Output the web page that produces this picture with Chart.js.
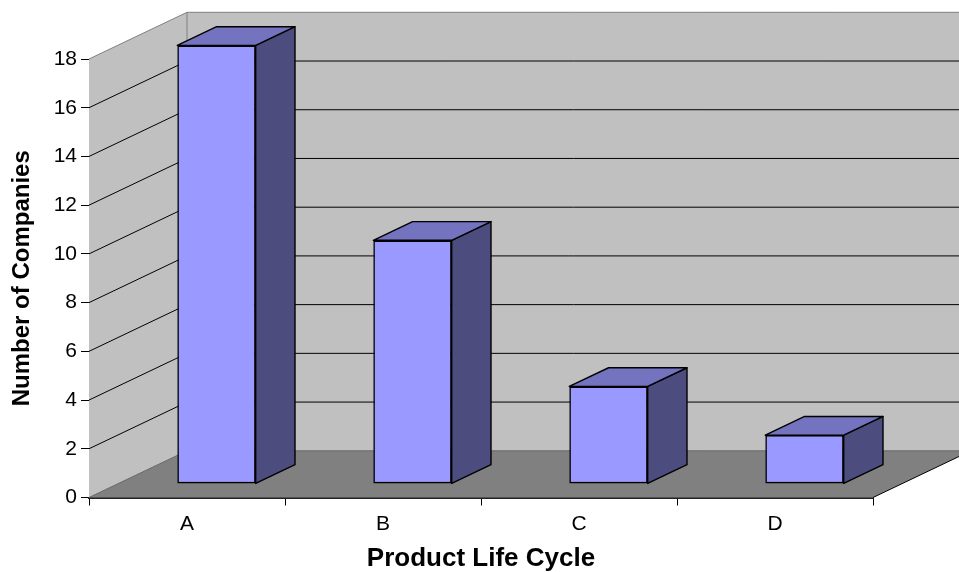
<!DOCTYPE html>
<html><head><meta charset="utf-8">
<style>html,body{margin:0;padding:0;background:#fff}canvas{display:block}</style>
<script src="https://cdn.jsdelivr.net/npm/chart.js@4"></script>
</head><body><canvas id="c" width="959" height="572"></canvas>
<script>
const categories = ["A","B","C","D"];
const companies = [18,10,4,2];
const yTitle = "Number of Companies";
const xTitle = "Product Life Cycle";
const FRONT="#9999FF", TOP="#7373BF", SIDE="#4C4C7F", WALL="#C0C0C0", FLOOR="#808080";
const DEPTH={x:98,y:46.7}, BAR_SHIFT={x:29.5,y:13.6}, BAR_DEPTH={x:39.3,y:18.7};
function poly(ctx,pts,fill,stroke,lw){
  ctx.beginPath();pts.forEach((p,i)=>i?ctx.lineTo(p[0],p[1]):ctx.moveTo(p[0],p[1]));ctx.closePath();
  if(fill){ctx.fillStyle=fill;ctx.fill();}
  if(stroke){ctx.strokeStyle=stroke;ctx.lineWidth=lw||1;ctx.stroke();}
}
function line(ctx,a,b,c,w){ctx.beginPath();ctx.moveTo(a[0],a[1]);ctx.lineTo(b[0],b[1]);ctx.strokeStyle=c;ctx.lineWidth=w||1;ctx.stroke();}
const box3d={
  id:"box3d",
  beforeDatasetsDraw(chart){
    const {ctx,chartArea:a,scales:{y}}=chart, dx=DEPTH.x, dy=DEPTH.y;
    const L=a.left,R=a.right,T=a.top,B=a.bottom;
    ctx.save();
    poly(ctx,[[L,B],[L+dx,B-dy],[L+dx,T-dy],[L,T]],WALL);
    poly(ctx,[[L+dx,B-dy],[R+dx,B-dy],[R+dx,T-dy],[L+dx,T-dy]],WALL);
    y.ticks.forEach(t=>{
      const py=y.getPixelForValue(t.value);
      if(t.value===0||t.value===y.max) return;
      line(ctx,[L,py],[L+dx,py-dy],"#000");
      line(ctx,[L+dx,py-dy],[R+dx,py-dy],"#000");
    });
    poly(ctx,[[L,B],[R,B],[R+dx,B-dy],[L+dx,B-dy]],FLOOR);
    line(ctx,[L,T],[L+dx,T-dy],FLOOR);
    line(ctx,[L+dx,T-dy],[R+dx,T-dy],FLOOR);
    line(ctx,[L+dx,T-dy],[L+dx,B-dy],FLOOR);
    line(ctx,[L+dx,B-dy],[R+dx,B-dy],"#666");
    line(ctx,[L,B],[L+dx,B-dy],"#666");
    line(ctx,[R,B],[R+dx,B-dy],"#000");
    // sides and tops of the bars, from the library's bar elements
    chart.getDatasetMeta(0).data.forEach(el=>{
      const p=el.getProps(["x","y","base","width"],true);
      const l=p.x-p.width/2+BAR_SHIFT.x, r=p.x+p.width/2+BAR_SHIFT.x;
      const t=p.y-BAR_SHIFT.y, b=p.base-BAR_SHIFT.y, bx=BAR_DEPTH.x, by=BAR_DEPTH.y;
      ctx.lineJoin="round";
      poly(ctx,[[r,t],[r+bx,t-by],[r+bx,b-by],[r,b]],SIDE,"#000",1.4);
      poly(ctx,[[l,t],[l+bx,t-by],[r+bx,t-by],[r,t]],TOP,"#000",1.4);
    });
    ctx.restore();
    // the library then draws the front face, shifted back into the depth
    ctx.save();
    ctx.translate(BAR_SHIFT.x,-BAR_SHIFT.y);
  },
  afterDatasetsDraw(chart){ chart.ctx.restore(); }
};
new Chart(document.getElementById("c"),{
  type:"bar",
  data:{labels:categories,datasets:[{data:companies,backgroundColor:FRONT,borderColor:"#000",borderWidth:1.6,borderSkipped:false,barPercentage:0.4,categoryPercentage:1}]},
  plugins:[box3d],
  options:{
    responsive:false,animation:false,
    layout:{padding:{left:0,right:86,top:59,bottom:0}},
    plugins:{legend:{display:false},title:{display:false},tooltip:{enabled:false}},
    scales:{
      x:{
        afterFit(s){s.height=74.5;},
        grid:{drawOnChartArea:false,color:"#000",tickLength:8,offset:true},
        border:{display:true,color:"#222",width:2},
        ticks:{color:"#000",font:{family:"Liberation Sans",size:21},padding:6,maxRotation:0},
        title:{display:true,text:xTitle,color:"#000",font:{family:"Liberation Sans",size:26,weight:"bold",lineHeight:1},padding:{top:0,bottom:0}}
      },
      y:{
        min:0,max:18,
        afterFit(s){s.width=89;},
        grid:{drawOnChartArea:false,color:"#000",tickLength:8},
        border:{display:true,color:"#000",width:1},
        ticks:{stepSize:2,color:"#000",font:{family:"Liberation Sans",size:21},padding:4},
        title:{display:true,text:yTitle,color:"#000",font:{family:"Liberation Sans",size:24,weight:"bold"},padding:{top:8,bottom:0}}
      }
    }
  }
});
</script></body></html>
